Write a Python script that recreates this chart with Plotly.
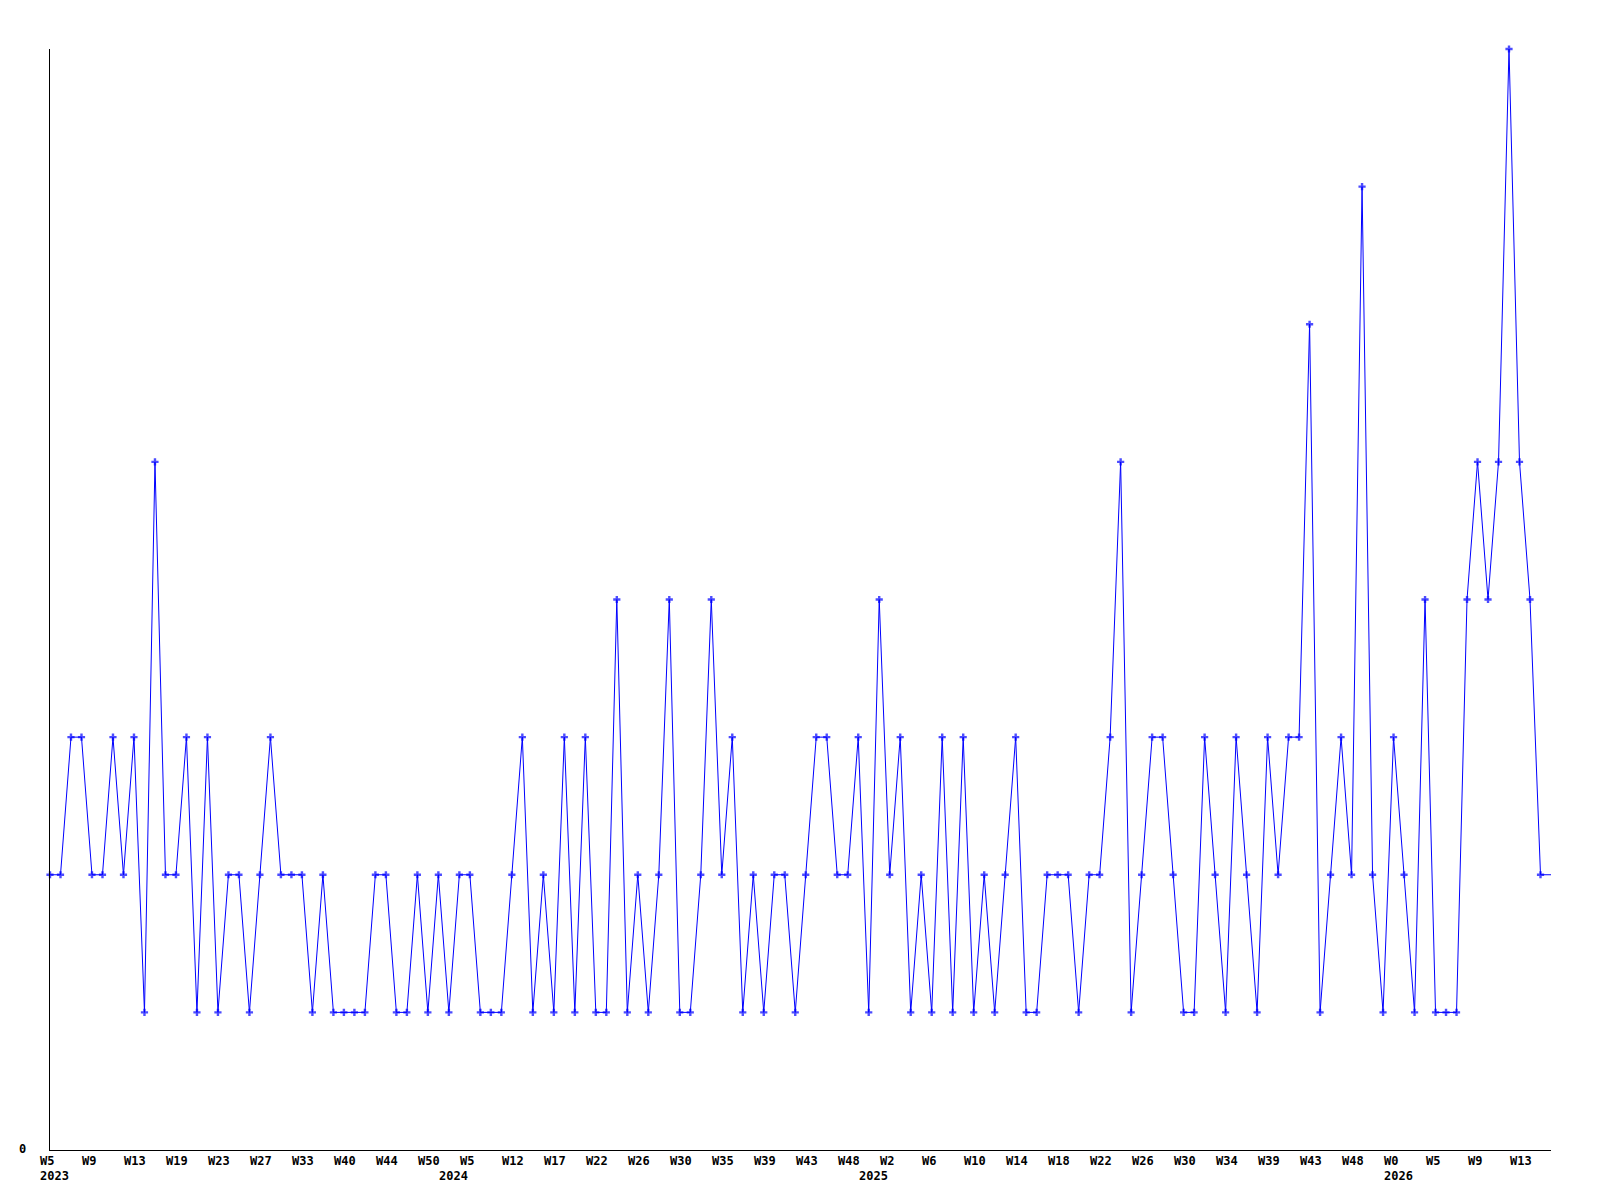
import plotly.graph_objects as go

# Weekly values (one entry per recorded week); last entry is the open (unmarked) tail
values = [2, 2, 3, 3, 2, 2, 3, 2, 3, 1,
          5, 2, 2, 3, 1, 3, 1, 2, 2, 1,
          2, 3, 2, 2, 2, 1, 2, 1, 1, 1,
          1, 2, 2, 1, 1, 2, 1, 2, 1, 2,
          2, 1, 1, 1, 2, 3, 1, 2, 1, 3,
          1, 3, 1, 1, 4, 1, 2, 1, 2, 4,
          1, 1, 2, 4, 2, 3, 1, 2, 1, 2,
          2, 1, 2, 3, 3, 2, 2, 3, 1, 4,
          2, 3, 1, 2, 1, 3, 1, 3, 1, 2,
          1, 2, 3, 1, 1, 2, 2, 2, 1, 2,
          2, 3, 5, 1, 2, 3, 3, 2, 1, 1,
          3, 2, 1, 3, 2, 1, 3, 2, 3, 3,
          6, 1, 2, 3, 2, 7, 2, 1, 3, 2,
          1, 4, 1, 1, 1, 4, 5, 4, 5, 8,
          5, 4, 2, 2]

# Week tick labels, one every 4 entries
week_labels = ["W5", "W9", "W13", "W19", "W23", "W27", "W33", "W40", "W44", "W50",
               "W5", "W12", "W17", "W22", "W26", "W30", "W35", "W39", "W43", "W48",
               "W2", "W6", "W10", "W14", "W18", "W22", "W26", "W30", "W34", "W39",
               "W43", "W48", "W0", "W5", "W9", "W13"]
tick_step = 4

# Year labels and the entry index where each year starts
years = ["2023", "2024", "2025", "2026"]
year_start_index = [0, 38, 78, 128]

n = len(values)
x = list(range(n))
marker_sizes = [6] * (n - 1) + [0]

font_mono = "DejaVu Sans Mono"

fig = go.Figure()
fig.add_trace(go.Scatter(
    x=x, y=values, mode="lines+markers",
    line=dict(color="#0000ff", width=1),
    marker=dict(symbol="cross", size=marker_sizes, color="#0000ff",
                line=dict(width=0)),
    cliponaxis=False, showlegend=False, hoverinfo="x+y",
))

annotations = []
for k, lab in enumerate(week_labels):
    annotations.append(dict(
        x=k * tick_step, y=0, xref="x", yref="y", text=lab,
        showarrow=False, xanchor="left", yanchor="top",
        xshift=-12, yshift=-2,
        font=dict(family=font_mono, size=12, color="black", weight="bold"),
    ))
for yr, idx in zip(years, year_start_index):
    annotations.append(dict(
        x=idx, y=0, xref="x", yref="y", text=yr,
        showarrow=False, xanchor="left", yanchor="top",
        xshift=-12, yshift=-17,
        font=dict(family=font_mono, size=12, color="black", weight="bold"),
    ))
annotations.append(dict(
    x=0, y=0, xref="paper", yref="y", text="0",
    showarrow=False, xanchor="right", yanchor="middle",
    xshift=-22, yshift=1,
    font=dict(family=font_mono, size=12, color="black", weight="bold"),
))

fig.update_layout(
    width=1584, height=1184,
    margin=dict(l=42, r=41, t=41, b=42),
    paper_bgcolor="white", plot_bgcolor="white",
    annotations=annotations,
    xaxis=dict(range=[0, n - 1], showgrid=False, zeroline=False,
               showline=True, linecolor="black", linewidth=1,
               showticklabels=False, ticks=""),
    yaxis=dict(range=[0, 8], showgrid=False, zeroline=False,
               showline=True, linecolor="black", linewidth=1,
               showticklabels=False, ticks=""),
)

fig.write_html("out.html")
